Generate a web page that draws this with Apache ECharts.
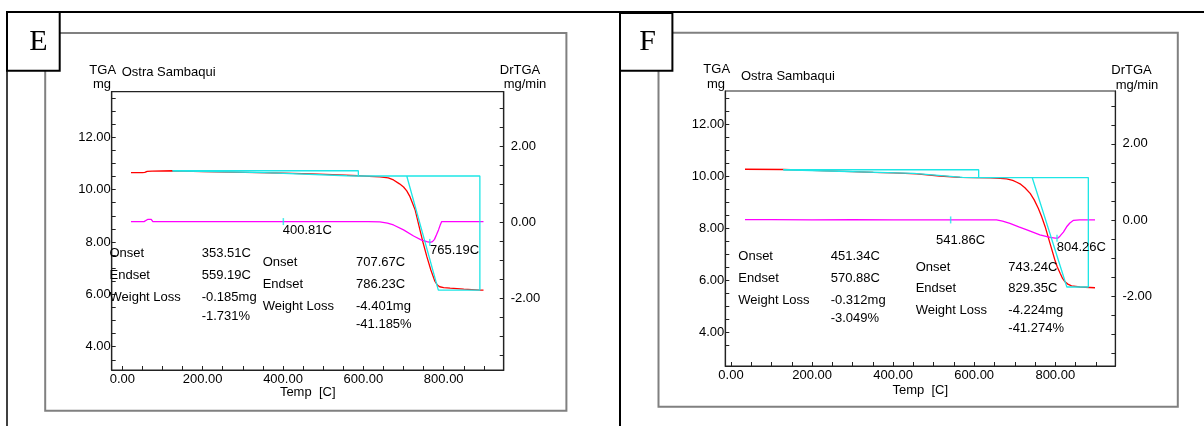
<!DOCTYPE html>
<html><head><meta charset="utf-8">
<script src="https://cdn.jsdelivr.net/npm/echarts@6/dist/echarts.min.js"></script>
<style>html,body{margin:0;padding:0;background:#fff}#c{width:1204px;height:426px}</style>
</head><body><div id="c"></div>
<script>
// ---------- tick values ----------
const X_LABELS = [0, 200, 400, 600, 800];
const X_TICKS = [0, 50, 100, 150, 200, 250, 300, 350, 400, 450, 500, 550, 600, 650, 700, 750, 800, 850, 900];
const YL_LABELS = [4, 6, 8, 10, 12];
const YL_TICKS = [3.5, 4, 4.5, 5, 5.5, 6, 6.5, 7, 7.5, 8, 8.5, 9, 9.5, 10, 10.5, 11, 11.5, 12, 12.5, 13, 13.5];
const YR_LABELS = [-2, 0, 2];
const YR_TICKS = [-3.5, -3, -2.5, -2, -1.5, -1, -0.5, 0, 0.5, 1, 1.5, 2, 2.5, 3];

// ---------- panel E : [temp C, value] ----------
const E_TGA = [[21.6,10.65],[50,10.65],[56,10.66],[62,10.70],[74,10.71],[125,10.72],[200,10.69],[305,10.66],[400,10.63],[471,10.60],[540,10.56],[587,10.53],[641,10.49],[662,10.45],[675,10.37],[690,10.22],[700,10.10],[708,9.95],[716,9.73],[729,9.22],[739,8.58],[749,7.95],[758,7.44],[768,6.93],[778,6.50],[784,6.36],[790,6.29],[800,6.26],[816,6.24],[850,6.20],[890,6.16],[899,6.16]];
const E_DTG = [[21.6,0.02],[54,0.02],[58,0.07],[64,0.08],[72,0.08],[76,0.02],[300,0.02],[500,0.02],[612,0.02],[641,0.01],[660,-0.02],[675,-0.07],[700,-0.20],[725,-0.36],[745,-0.47],[758,-0.51],[766,-0.53],[772,-0.51],[777,-0.45],[782,-0.33],[787,-0.20],[791,-0.08],[795,0.02],[816,0.02],[899,0.02]];
const E_CYAN_STEP = [[125,10.72],[587.5,10.72],[587.5,10.52],[890,10.52],[890,6.16],[786.6,6.16],[708,10.52]];
const E_CYAN_TANGENT = [[125,10.72],[353.5,10.65],[559.2,10.53],[587.5,10.52]];
const E_PEAKS = [[400.81,0.02],[765.19,-0.53]];
const E_AXIS = {xmin:-26.4, xmax:949.3, ylmin:3.11, ylmax:13.74, yrmin:-3.90, yrmax:3.45};

// ---------- panel F ----------
const F_TGA = [[34.5,10.26],[129,10.25],[200,10.22],[300,10.17],[351,10.14],[400,10.12],[458,10.08],[515,10.00],[565,9.95],[598,9.94],[640,9.93],[664,9.91],[680,9.89],[695,9.83],[705,9.76],[713,9.70],[725,9.55],[738,9.33],[748,9.08],[758,8.76],[766,8.45],[775,8.05],[787,7.41],[799,6.77],[805,6.50],[812,6.26],[818,6.06],[824,5.93],[831,5.84],[840,5.77],[861,5.73],[898,5.70]];
const F_DTG = [[34.5,0.01],[100,0.01],[200,0.00],[300,0.01],[400,0.00],[500,0.00],[565,0.00],[655,0.00],[670,-0.03],[688,-0.09],[710,-0.18],[730,-0.26],[762,-0.39],[787,-0.46],[800,-0.48],[806,-0.48],[812,-0.42],[820,-0.32],[828,-0.18],[836,-0.08],[845,-0.01],[860,0.00],[898,0.00]];
const F_CYAN_STEP = [[129,10.24],[611,10.24],[611,9.94],[881.5,9.94],[881.5,5.73],[828.5,5.73],[743,9.94]];
const F_CYAN_TANGENT = [[129,10.24],[451,10.10],[571,9.95],[611,9.94]];
const F_PEAKS = [[541.86,0.00],[804.26,-0.48]];
const F_AXIS = {xmin:-14.1, xmax:948.3, ylmin:2.69, ylmax:13.27, yrmin:-3.84, yrmax:3.39};

// ---------- annotation texts ----------
const E_TABLE1 = [["Onset","353.51C"],["Endset","559.19C"],["Weight Loss","-0.185mg"],["","-1.731%"]];
const E_TABLE2 = [["Onset","707.67C"],["Endset","786.23C"],["Weight Loss","-4.401mg"],["","-41.185%"]];
const F_TABLE1 = [["Onset","451.34C"],["Endset","570.88C"],["Weight Loss","-0.312mg"],["","-3.049%"]];
const F_TABLE2 = [["Onset","743.24C"],["Endset","829.35C"],["Weight Loss","-4.224mg"],["","-41.274%"]];
const E_PEAK_LABELS = ["400.81C","765.19C"];
const F_PEAK_LABELS = ["541.86C","804.26C"];

const FONT = '13px "Liberation Sans", Arial, sans-serif';
const RED = '#ff0000', MAG = '#ff00ff', CYAN = '#1ee6e6', AX = '#222';

function fmt(v){ return v.toFixed(2); }

function xAxis(gi, a){
  return {gridIndex:gi, type:'value', min:a.xmin, max:a.xmax,
    axisLine:{show:true,onZero:false,lineStyle:{color:AX,width:1.2}},
    axisTick:{show:true,inside:true,length:4,customValues:X_TICKS,lineStyle:{color:AX,width:1}},
    axisLabel:{customValues:X_LABELS,formatter:fmt,color:'#000',fontSize:13,fontFamily:'Liberation Sans',margin:3},
    splitLine:{show:false}};
}
function yAxis(gi, pos, min, max, ticks, labels, margin){
  return {gridIndex:gi, type:'value', position:pos, min:min, max:max,
    axisLine:{show:true,onZero:false,lineStyle:{color:AX,width:1.2}},
    axisTick:{show:true,inside:true,length:4,customValues:ticks,lineStyle:{color:AX,width:1}},
    axisLabel:{customValues:labels,formatter:fmt,color:'#000',fontSize:13,fontFamily:'Liberation Sans',margin:margin},
    splitLine:{show:false}};
}
function line(xi, yi, data, color, z){
  return {type:'line', xAxisIndex:xi, yAxisIndex:yi, data:data, showSymbol:false, symbol:'none',
    lineStyle:{color:color,width:1.3}, silent:true, animation:false, z:z};
}
function peaks(xi, yi, data){
  return {type:'scatter', xAxisIndex:xi, yAxisIndex:yi, data:data, symbol:'rect', symbolSize:[1.5,7],
    itemStyle:{color:CYAN}, silent:true, animation:false, z:6};
}
function T(x, y, s, align, font){
  return {type:'text', x:x, y:y, z:10, silent:true,
    style:{text:s, font:font||FONT, fill:'#000', align:align||'left', verticalAlign:'middle'}};
}
function table(rows, x1, x2, ys){
  const out = [];
  rows.forEach((r,i)=>{ if(r[0]) out.push(T(x1, ys[i], r[0])); out.push(T(x2, ys[i], r[1])); });
  return out;
}

const graphics = [
  {type:'rect', z:1, shape:{x:45.2,y:33,width:521.2,height:377.7}, style:{fill:'none',stroke:'#808080',lineWidth:2}},
  {type:'rect', z:1, shape:{x:658.5,y:32.7,width:519.3,height:374}, style:{fill:'none',stroke:'#808080',lineWidth:2}},
  {type:'line', z:2, shape:{x1:6,y1:12,x2:1204,y2:12}, style:{stroke:'#000',lineWidth:2}},
  {type:'line', z:2, shape:{x1:7,y1:12,x2:7,y2:426}, style:{stroke:'#000',lineWidth:1.5}},
  {type:'line', z:2, shape:{x1:620,y1:12,x2:620,y2:426}, style:{stroke:'#000',lineWidth:2}},
  {type:'rect', z:3, shape:{x:7,y:12,width:52.7,height:58.7}, style:{fill:'#fff',stroke:'#000',lineWidth:2}},
  {type:'rect', z:3, shape:{x:620,y:13,width:52.4,height:57.7}, style:{fill:'#fff',stroke:'#000',lineWidth:2}},
  {type:'text', z:11, x:38.3, y:42, style:{text:'E', font:'30px "Liberation Serif", "Times New Roman", serif', fill:'#000', align:'center', verticalAlign:'middle'}},
  {type:'text', z:11, x:647.5, y:42, style:{text:'F', font:'30px "Liberation Serif", "Times New Roman", serif', fill:'#000', align:'center', verticalAlign:'middle'}},
  // panel E headers
  T(102.7, 70.7, 'TGA', 'center'), T(102, 84.5, 'mg', 'center'),
  T(121.7, 72.7, 'Ostra Sambaqui'),
  T(520, 70.7, 'DrTGA', 'center'), T(525, 84.5, 'mg/min', 'center'),
  T(307.7, 392.3, 'Temp  [C]', 'center'),
  T(282.7, 230, E_PEAK_LABELS[0]), T(430, 250.3, E_PEAK_LABELS[1]),
  // panel F headers
  T(716.7, 69.5, 'TGA', 'center'), T(716, 84.5, 'mg', 'center'),
  T(741, 76, 'Ostra Sambaqui'),
  T(1131.5, 70, 'DrTGA', 'center'), T(1137, 85, 'mg/min', 'center'),
  T(920.3, 390, 'Temp  [C]', 'center'),
  T(936, 240, F_PEAK_LABELS[0]), T(1056.7, 247.3, F_PEAK_LABELS[1])
].concat(
  table(E_TABLE1, 109.5, 201.7, [253.3,275.7,297.7,316]),
  table(E_TABLE2, 262.7, 356, [262.3,284.3,306.7,324.3]),
  table(F_TABLE1, 738.3, 830.7, [256.7,278.3,300.3,318.3]),
  table(F_TABLE2, 915.7, 1008.3, [267.3,288.7,310.7,328.3])
);

const option = {
  animation:false,
  backgroundColor:'#fff',
  grid:[
    {left:111.7, top:91.7, width:392, height:278.3, show:true, borderColor:AX, borderWidth:1.2, backgroundColor:'transparent'},
    {left:725.3, top:91, width:390.1, height:275, show:true, borderColor:AX, borderWidth:1.2, backgroundColor:'transparent'}
  ],
  xAxis:[xAxis(0,E_AXIS), xAxis(1,F_AXIS)],
  yAxis:[
    yAxis(0,'left',E_AXIS.ylmin,E_AXIS.ylmax,YL_TICKS,YL_LABELS,1),
    yAxis(0,'right',E_AXIS.yrmin,E_AXIS.yrmax,YR_TICKS,YR_LABELS,7),
    yAxis(1,'left',F_AXIS.ylmin,F_AXIS.ylmax,YL_TICKS.filter(v=>v<=13),YL_LABELS,1),
    yAxis(1,'right',F_AXIS.yrmin,F_AXIS.yrmax,YR_TICKS,YR_LABELS,7)
  ],
  series:[
    line(0,0,E_TGA,RED,3), line(0,1,E_DTG,MAG,3), line(0,0,E_CYAN_STEP,CYAN,4), line(0,0,E_CYAN_TANGENT,CYAN,4), peaks(0,1,E_PEAKS),
    line(1,2,F_TGA,RED,3), line(1,3,F_DTG,MAG,3), line(1,2,F_CYAN_STEP,CYAN,4), line(1,2,F_CYAN_TANGENT,CYAN,4), peaks(1,3,F_PEAKS)
  ],
  graphic:graphics
};
const chart = echarts.init(document.getElementById('c'), null, {renderer:'canvas'});
chart.setOption(option);
</script></body></html>
